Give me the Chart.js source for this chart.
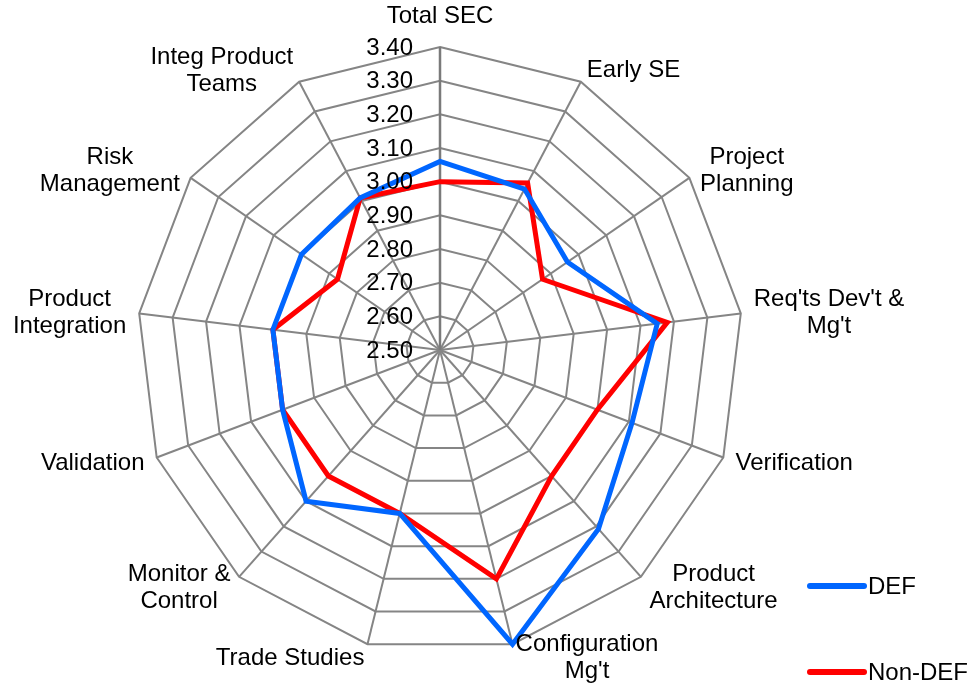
<!DOCTYPE html>
<html>
<head>
<meta charset="utf-8">
<script src="https://cdn.jsdelivr.net/npm/chart.js@4"></script>
<style>
  html, body { margin: 0; padding: 0; background: #fff; }
  #wrap { width: 967px; height: 685px; position: relative; }
</style>
</head>
<body>
<div id="wrap"><canvas id="radar"></canvas></div>
<script>
// categories, clockwise from the top
const categories = [
    ["Total SEC"],
    ["Early SE"],
    ["Project", "Planning"],
    ["Req'ts Dev't &", "Mg't"],
    ["Verification"],
    ["Product", "Architecture"],
    ["Configuration", "Mg't"],
    ["Trade Studies"],
    ["Monitor &", "Control"],
    ["Validation"],
    ["Product", "Integration"],
    ["Risk", "Management"],
    ["Integ Product", "Teams"]
];

const defValues    = [3.06, 3.04, 2.96, 3.15, 3.11, 3.21, 3.40, 3.00, 3.10, 3.00, 3.00, 3.00, 3.01];
const nonDefValues = [3.00, 3.06, 2.87, 3.18, 3.00, 3.00, 3.20, 3.00, 3.00, 3.00, 3.00, 2.87, 3.01];

const tickLabels = ["2.50", "2.60", "2.70", "2.80", "2.90", "3.00", "3.10", "3.20", "3.30", "3.40"];

const FONT = "24px 'Liberation Sans', Arial, sans-serif";

// tick labels + point labels, drawn on top of the data lines (like Excel)
const radarText = {
    id: 'radarText',
    afterDatasetsDraw(chart) {
        const scale = chart.scales.r;
        const ctx = chart.ctx;
        ctx.save();
        ctx.font = FONT;
        ctx.fillStyle = '#000';

        // value labels to the left of the vertical axis
        ctx.textAlign = 'right';
        ctx.textBaseline = 'middle';
        tickLabels.forEach(t => {
            const d = scale.getDistanceFromCenterForValue(parseFloat(t));
            ctx.fillText(t, scale.xCenter - 27, scale.yCenter - d + 1);
        });

        // category labels
        const lineH = 27;
        chart.data.labels.forEach((lines, i) => {
            const v = scale.getPointPosition(i, scale.drawingArea);
            const dx = (v.x - scale.xCenter) / scale.drawingArea;
            const dy = (v.y - scale.yCenter) / scale.drawingArea;
            const widths = lines.map(l => ctx.measureText(l).width);
            const w = Math.max(...widths);
            const h = lines.length * lineH;
            let cx, cy;
            if (Math.abs(dx) < 0.05) {
                cx = v.x;
                cy = v.y - 18 - h / 2 + (dy > 0 ? 36 + h : 0);
            } else if (dx > 0) {
                cx = v.x + 13 * dx + w / 2;
                cy = v.y + 13.5 * dy;
            } else {
                cx = v.x + 13 * dx - w / 2;
                cy = v.y + 13.5 * dy;
            }
            ctx.textAlign = 'center';
            lines.forEach((l, k) => {
                ctx.fillText(l, cx, cy - h / 2 + lineH * (k + 0.5) + 1);
            });
        });
        ctx.restore();
    }
};

// legend at bottom right
const sideLegend = {
    id: 'sideLegend',
    afterDraw(chart, args, opts) {
        const ctx = chart.ctx;
        ctx.save();
        ctx.font = FONT;
        ctx.textAlign = 'left';
        ctx.textBaseline = 'middle';
        chart.data.datasets.forEach((ds, i) => {
            const y = opts.y[i];
            ctx.strokeStyle = ds.borderColor;
            ctx.lineWidth = 6;
            ctx.lineCap = 'round';
            ctx.beginPath();
            ctx.moveTo(opts.x, y);
            ctx.lineTo(opts.x + 54, y);
            ctx.stroke();
            ctx.fillStyle = '#000';
            ctx.fillText(ds.label, opts.x + 58, y + 1);
        });
        ctx.restore();
    }
};

const ctx = document.getElementById('radar').getContext('2d');
new Chart(ctx, {
    type: 'radar',
    data: {
        labels: categories,
        datasets: [
            {
                label: "DEF",
                data: defValues,
                borderColor: "#0066ff",
                borderWidth: 5,
                borderJoinStyle: 'miter',
                fill: false,
                pointRadius: 0,
                pointHoverRadius: 0
            },
            {
                label: "Non-DEF",
                data: nonDefValues,
                borderColor: "#ff0000",
                borderWidth: 5,
                borderJoinStyle: 'miter',
                fill: false,
                pointRadius: 0,
                pointHoverRadius: 0
            }
        ]
    },
    options: {
        responsive: true,
        maintainAspectRatio: false,
        animation: false,
        layout: { padding: { left: 137, right: 224, top: 47, bottom: 32 } },
        plugins: {
            legend: { display: false },
            tooltip: { enabled: false },
            sideLegend: { x: 810, y: [586, 672] }
        },
        scales: {
            r: {
                min: 2.5,
                max: 3.4,
                ticks: { stepSize: 0.1, display: false },
                pointLabels: { display: false },
                grid: { color: '#858585', lineWidth: 2 },
                angleLines: {
                    color: c => c.index === 0 ? '#7a7a7a' : '#858585',
                    lineWidth: c => c.index === 0 ? 2.5 : 2
                }
            }
        }
    },
    plugins: [radarText, sideLegend]
});
</script>
</body>
</html>
